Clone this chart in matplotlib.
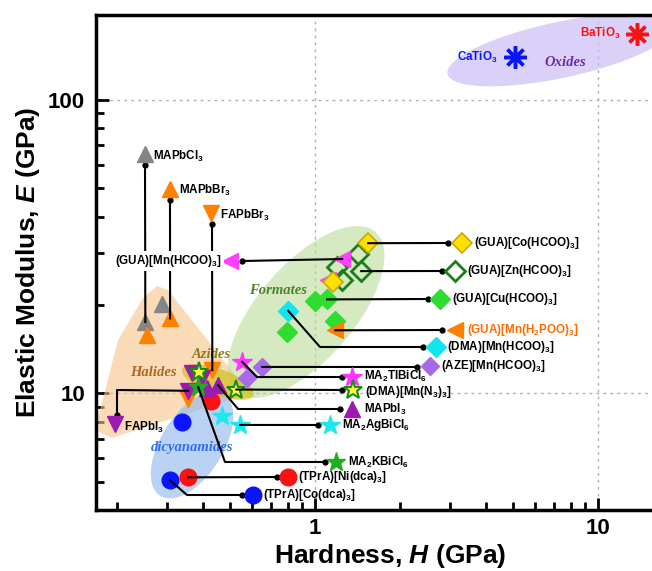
import numpy as np
import matplotlib
matplotlib.use('Agg')
import matplotlib.pyplot as plt
from matplotlib import font_manager
from matplotlib.ticker import FixedLocator, NullFormatter, FuncFormatter

# ---- data: hardness H (GPa), elastic modulus E (GPa) ----
mapbcl_H = [0.251, 0.288]
mapbcl_E = [17.5, 20.1]
mapbbr_H = [0.307, 0.255]
mapbbr_E = [18.0, 15.8]
fapbbr_H = [0.433, 0.356]
fapbbr_E = [12.0, 9.6]
fapbi_H = [0.356, 0.367, 0.399]
fapbi_E = [10.2, 11.7, 11.25]
mapbi_H = [0.415, 0.454]
mapbi_E = [10.4, 10.65]
kbicl_H = [0.386]
kbicl_E = [10.5]
mnn3_H = [0.389, 0.526]
mnn3_E = [11.8, 10.3]
agbicl_H = [0.469, 0.543]
agbicl_E = [8.4, 7.8]
tlbicl_H = [0.552]
tlbicl_E = [12.8]
aze_H = [0.650, 0.575]
aze_E = [12.3, 11.3]
nidca_H = [0.429, 0.356]
nidca_E = [9.4, 5.17]
codca_H = [0.339, 0.307]
codca_E = [7.96, 5.05]
cohcoo_H = [1.54, 1.158]
cohcoo_E = [32.5, 23.9]
znhcoo_H = [1.419, 1.196, 1.454, 1.246]
znhcoo_E = [29.8, 26.9, 26.1, 24.3]
mnhcoo_H = [1.246, 1.111]
mnhcoo_E = [28.7, 24.3]
cuhcoo_H = [1.0, 1.102, 1.177, 0.796]
cuhcoo_E = [20.6, 20.9, 17.7, 16.2]
h2poo_H = [1.177]
h2poo_E = [16.4]
dmahcoo_H = [0.803]
dmahcoo_E = [19.1]
catio_H = [5.09]
catio_E = [140]
batio_H = [13.7]
batio_E = [168]

names = {f.name for f in font_manager.fontManager.ttflist}
narrow = 'Liberation Sans Narrow' if 'Liberation Sans Narrow' in names else 'Liberation Sans'

plt.rcParams['font.family'] = 'Liberation Sans'
plt.rcParams['font.weight'] = 'bold'
plt.rcParams['axes.labelweight'] = 'bold'
plt.rcParams['mathtext.fontset'] = 'custom'
plt.rcParams['mathtext.rm'] = narrow + ':bold'
plt.rcParams['mathtext.bf'] = narrow + ':bold'
plt.rcParams['mathtext.it'] = 'Liberation Sans:italic:bold'

W, Hpx = 652, 571
fig = plt.figure(figsize=(W / 100, Hpx / 100), dpi=100)
ax = fig.add_axes([96 / W, (Hpx - 510) / Hpx, 1 - 96 / W, (510 - 15) / Hpx])
ax.set_xscale('log')
ax.set_yscale('log')
ax.set_xlim(0.168, 15.5)
ax.set_ylim(4.0, 195)


def P(px, py):
    # position given in reference-image pixels -> data coordinates
    return ax.transData.inverted().transform((px, Hpx - py))


def region(cx, cy, a, b, ang, color, alpha):
    t = np.linspace(0, 2 * np.pi, 120)
    r = np.radians(ang)
    xs = cx + a * np.cos(t) * np.cos(r) - b * np.sin(t) * np.sin(r)
    ys = cy - (a * np.cos(t) * np.sin(r) + b * np.sin(t) * np.cos(r))
    pts = np.array([P(x, y) for x, y in zip(xs, ys)])
    ax.fill(pts[:, 0], pts[:, 1], color=color, alpha=alpha, lw=0, zorder=1)


# shaded groups
halide_px = [(157, 286), (168, 290), (243, 385), (236, 398), (112, 438),
             (99, 432), (98, 418), (118, 340), (143, 298)]
hp = np.array([P(x, y) for x, y in halide_px])
ax.fill(hp[:, 0], hp[:, 1], color='#f8c48a', alpha=0.6, lw=0, zorder=1)
region(192, 445, 60, 31, 58, '#8cb6ee', 0.6)
region(306, 312, 106, 48, 49, '#b9dc96', 0.6)
region(218, 382, 38, 13, -20, '#d2c21a', 0.7)
region(560, 50, 115, 28, 12, '#cdbcf5', 0.7)

serif = dict(family='Liberation Serif', style='italic', weight='bold', fontsize=10.5,
             ha='center', va='center', zorder=2)
ax.text(*P(565, 62), 'Oxides', color='#6a2ea0', **serif)
ax.text(*P(278, 291), 'Formates', color='#4e7f2e', **serif)
ax.text(*P(211, 354), 'Azides', color='#8c7d1a', **serif)
ax.text(*P(153, 373), 'Halides', color='#a86a26', **serif)
ax.text(*P(192, 448), 'dicyanamides', color='#2f6ff5', **serif)

sty = {
    'mapbcl': dict(marker='^', color='#858585', ms=11, ls=''),
    'mapbbr': dict(marker='^', color='#ff7f00', ms=11, ls=''),
    'fapbbr': dict(marker='v', color='#ff7f00', ms=11, ls=''),
    'fapbi': dict(marker='v', color='#9c1ab0', ms=11, ls=''),
    'mapbi': dict(marker='^', color='#9c1ab0', ms=11, ls=''),
    'kbicl': dict(marker='*', color='#1fae1f', ms=14, ls=''),
    'mnn3': dict(marker='*', mfc='#ffff3a', mec='#1a8a1a', mew=1.5, ms=14, ls=''),
    'agbicl': dict(marker='*', color='#1ee8ee', ms=15, ls=''),
    'tlbicl': dict(marker='*', color='#ff35ff', ms=15, ls=''),
    'aze': dict(marker='D', color='#a66ae8', ms=9, ls=''),
    'nidca': dict(marker='o', color='#ff1010', ms=12, ls=''),
    'codca': dict(marker='o', color='#0a14ff', ms=12, ls=''),
    'cohcoo': dict(marker='D', mfc='#ffe000', mec='#c9a800', mew=1.2, ms=10, ls=''),
    'znhcoo': dict(marker='D', mfc='none', mec='#1b7d1b', mew=2, ms=10, ls=''),
    'mnhcoo': dict(marker='<', color='#ff40ff', ms=11, ls=''),
    'cuhcoo': dict(marker='D', color='#2fdc2f', ms=10, ls=''),
    'h2poo': dict(marker='<', color='#ff7f00', ms=11, ls=''),
    'dmahcoo': dict(marker='D', color='#10e6f0', ms=10, ls=''),
    'catio': dict(marker=(8, 2, 0), color='#0a14ff', mew=2.5, ms=16, ls=''),
    'batio': dict(marker=(8, 2, 0), color='#ff1010', mew=2.5, ms=16, ls=''),
}

series = {
    'mapbcl': (mapbcl_H, mapbcl_E), 'mapbbr': (mapbbr_H, mapbbr_E),
    'fapbbr': (fapbbr_H, fapbbr_E), 'cuhcoo': (cuhcoo_H, cuhcoo_E),
    'dmahcoo': (dmahcoo_H, dmahcoo_E), 'h2poo': (h2poo_H, h2poo_E),
    'znhcoo': (znhcoo_H, znhcoo_E), 'mnhcoo': (mnhcoo_H, mnhcoo_E),
    'cohcoo': (cohcoo_H, cohcoo_E), 'codca': (codca_H, codca_E),
    'nidca': (nidca_H, nidca_E), 'agbicl': (agbicl_H, agbicl_E),
    'fapbi': (fapbi_H, fapbi_E), 'mapbi': (mapbi_H, mapbi_E),
    'aze': (aze_H, aze_E), 'tlbicl': (tlbicl_H, tlbicl_E),
    'kbicl': (kbicl_H, kbicl_E), 'mnn3': (mnn3_H, mnn3_E),
    'catio': (catio_H, catio_E), 'batio': (batio_H, batio_E),
}
for key, (hs, es) in series.items():
    ax.plot(hs, es, zorder=3, **sty[key])

lab = dict(fontsize=8.4, family=narrow, fontweight='bold', va='center', zorder=5)

# labels: text, series, point index, leader path (px), label marker (px), text (px)
notes = [
    ('MAPbCl$_3$', 'mapbcl', 0, [(145, 165)], (145, 154), (153, 156)),
    ('MAPbBr$_3$', 'mapbbr', 0, [(170, 200)], (170, 189), (179, 190)),
    ('FAPbBr$_3$', 'fapbbr', 0, [(212, 224)], (211, 213), (220, 215)),
    ('(GUA)[Co(HCOO)$_3$]', 'cohcoo', 0, [(448, 243)], (462, 243), (474, 243)),
    ('(GUA)[Zn(HCOO)$_3$]', 'znhcoo', 2, [(442, 271)], (455, 271), (467, 271)),
    ('(GUA)[Cu(HCOO)$_3$]', 'cuhcoo', 1, [(428, 299)], (440, 299), (452, 299)),
    ('(GUA)[Mn(H$_2$POO)$_3$]', 'h2poo', 0, [(442, 330)], (455, 330), (467, 330)),
    ('(DMA)[Mn(HCOO)$_3$]', 'dmahcoo', 0, [(320, 347), (423, 347)], (436, 347), (447, 347)),
    ('(AZE)[Mn(HCOO)$_3$]', 'aze', 0, [(417, 367)], (430, 366), (441, 366)),
    ('MA$_2$TlBiCl$_6$', 'tlbicl', 0, [(257, 377), (342, 377)], (352, 377), (364, 376)),
    ('(DMA)[Mn(N$_3$)$_3$]', 'mnn3', 1, [(342, 390)], (353, 390), (365, 392)),
    ('MAPbI$_3$', 'mapbi', 1, [(238, 409), (340, 409)], (352, 409), (364, 409)),
    ('MA$_2$AgBiCl$_6$', 'agbicl', 1, [(318, 425)], (330, 425), (342, 425)),
    ('MA$_2$KBiCl$_6$', 'kbicl', 0, [(225, 462), (325, 462)], (336, 462), (348, 462)),
    ('(TPrA)[Ni(dca)$_3$]', 'nidca', 1, [(277, 477)], (288, 477), (298, 477)),
    ('(TPrA)[Co(dca)$_3$]', 'codca', 1, [(187, 495), (242, 495)], (253, 495), (263, 495)),
    ('FAPbI$_3$', 'fapbi', 0, [(117, 390), (117, 415)], (115, 424), (124, 427)),
]
for text, key, i, path, mpos, tpos in notes:
    hs, es = series[key]
    pts = [(hs[i], es[i])] + [tuple(P(*p)) for p in path]
    xs, ys = zip(*pts)
    ax.plot(xs, ys, color='black', lw=1.5, zorder=4)
    ax.plot(xs[-1], ys[-1], 'o', color='black', ms=3.5, zorder=4)
    ax.plot(*P(*mpos), zorder=4, **sty[key])
    col = '#ff6a00' if key == 'h2poo' else 'black'
    ax.text(*P(*tpos), text, color=col, ha='left', **lab)

# (GUA)[Mn(HCOO)3] label sits left of its marker, over the vertical leaders
hs, es = series['mnhcoo']
pts = [(hs[0], es[0]), tuple(P(242, 261))]
xs, ys = zip(*pts)
ax.plot(xs, ys, color='black', lw=1.5, zorder=4)
ax.plot(xs[-1], ys[-1], 'o', color='black', ms=3.5, zorder=4)
ax.plot(*P(230, 261), zorder=4, **sty['mnhcoo'])
ax.text(*P(222, 261), '(GUA)[Mn(HCOO)$_3$]', ha='right',
        bbox=dict(facecolor='white', edgecolor='none', pad=1.5), **lab)

ax.text(*P(498, 57), 'CaTiO$_3$', color='#0a14ff', ha='right', **lab)
ax.text(*P(621, 33), 'BaTiO$_3$', color='#ff1010', ha='right', **lab)

# axes styling
for s in ['left', 'bottom', 'top']:
    ax.spines[s].set_linewidth(2.5)
ax.spines['right'].set_visible(False)
ax.xaxis.set_major_locator(FixedLocator([1, 10]))
ax.yaxis.set_major_locator(FixedLocator([10, 100]))
ax.xaxis.set_minor_locator(FixedLocator([0.2, 0.3, 0.4, 0.5, 0.6, 0.7, 0.8, 0.9,
                                         2, 3, 4, 5, 6, 7, 8, 9]))
ax.yaxis.set_minor_locator(FixedLocator([5, 6, 7, 8, 9, 20, 30, 40, 50, 60, 70, 80, 90]))
fmt = FuncFormatter(lambda v, p: '%d' % v)
ax.xaxis.set_major_formatter(fmt)
ax.yaxis.set_major_formatter(fmt)
ax.xaxis.set_minor_formatter(NullFormatter())
ax.yaxis.set_minor_formatter(NullFormatter())
ax.tick_params(which='both', direction='in', top=False, right=False, labelsize=16)
ax.tick_params(axis='x', pad=6)
ax.tick_params(axis='y', pad=8)
ax.tick_params(which='major', length=9, width=2)
ax.tick_params(which='minor', length=6, width=2)
plt.setp(ax.get_xticklabels() + ax.get_yticklabels(), fontweight='bold')
ax.grid(which='major', ls=(0, (2, 3)), color='#b0b0b0', lw=1)
ax.set_axisbelow(True)

ax.set_xlabel(r'Hardness, $\it{H}$ (GPa)', fontsize=19, fontweight='bold')
ax.set_ylabel(r'Elastic Modulus, $\it{E}$ (GPa)', fontsize=19, fontweight='bold')
ax.xaxis.set_label_coords((390 - 96) / 556, -0.064)
ax.yaxis.set_label_coords(-0.098, 0.5)

fig.savefig('out.png', dpi=100)
